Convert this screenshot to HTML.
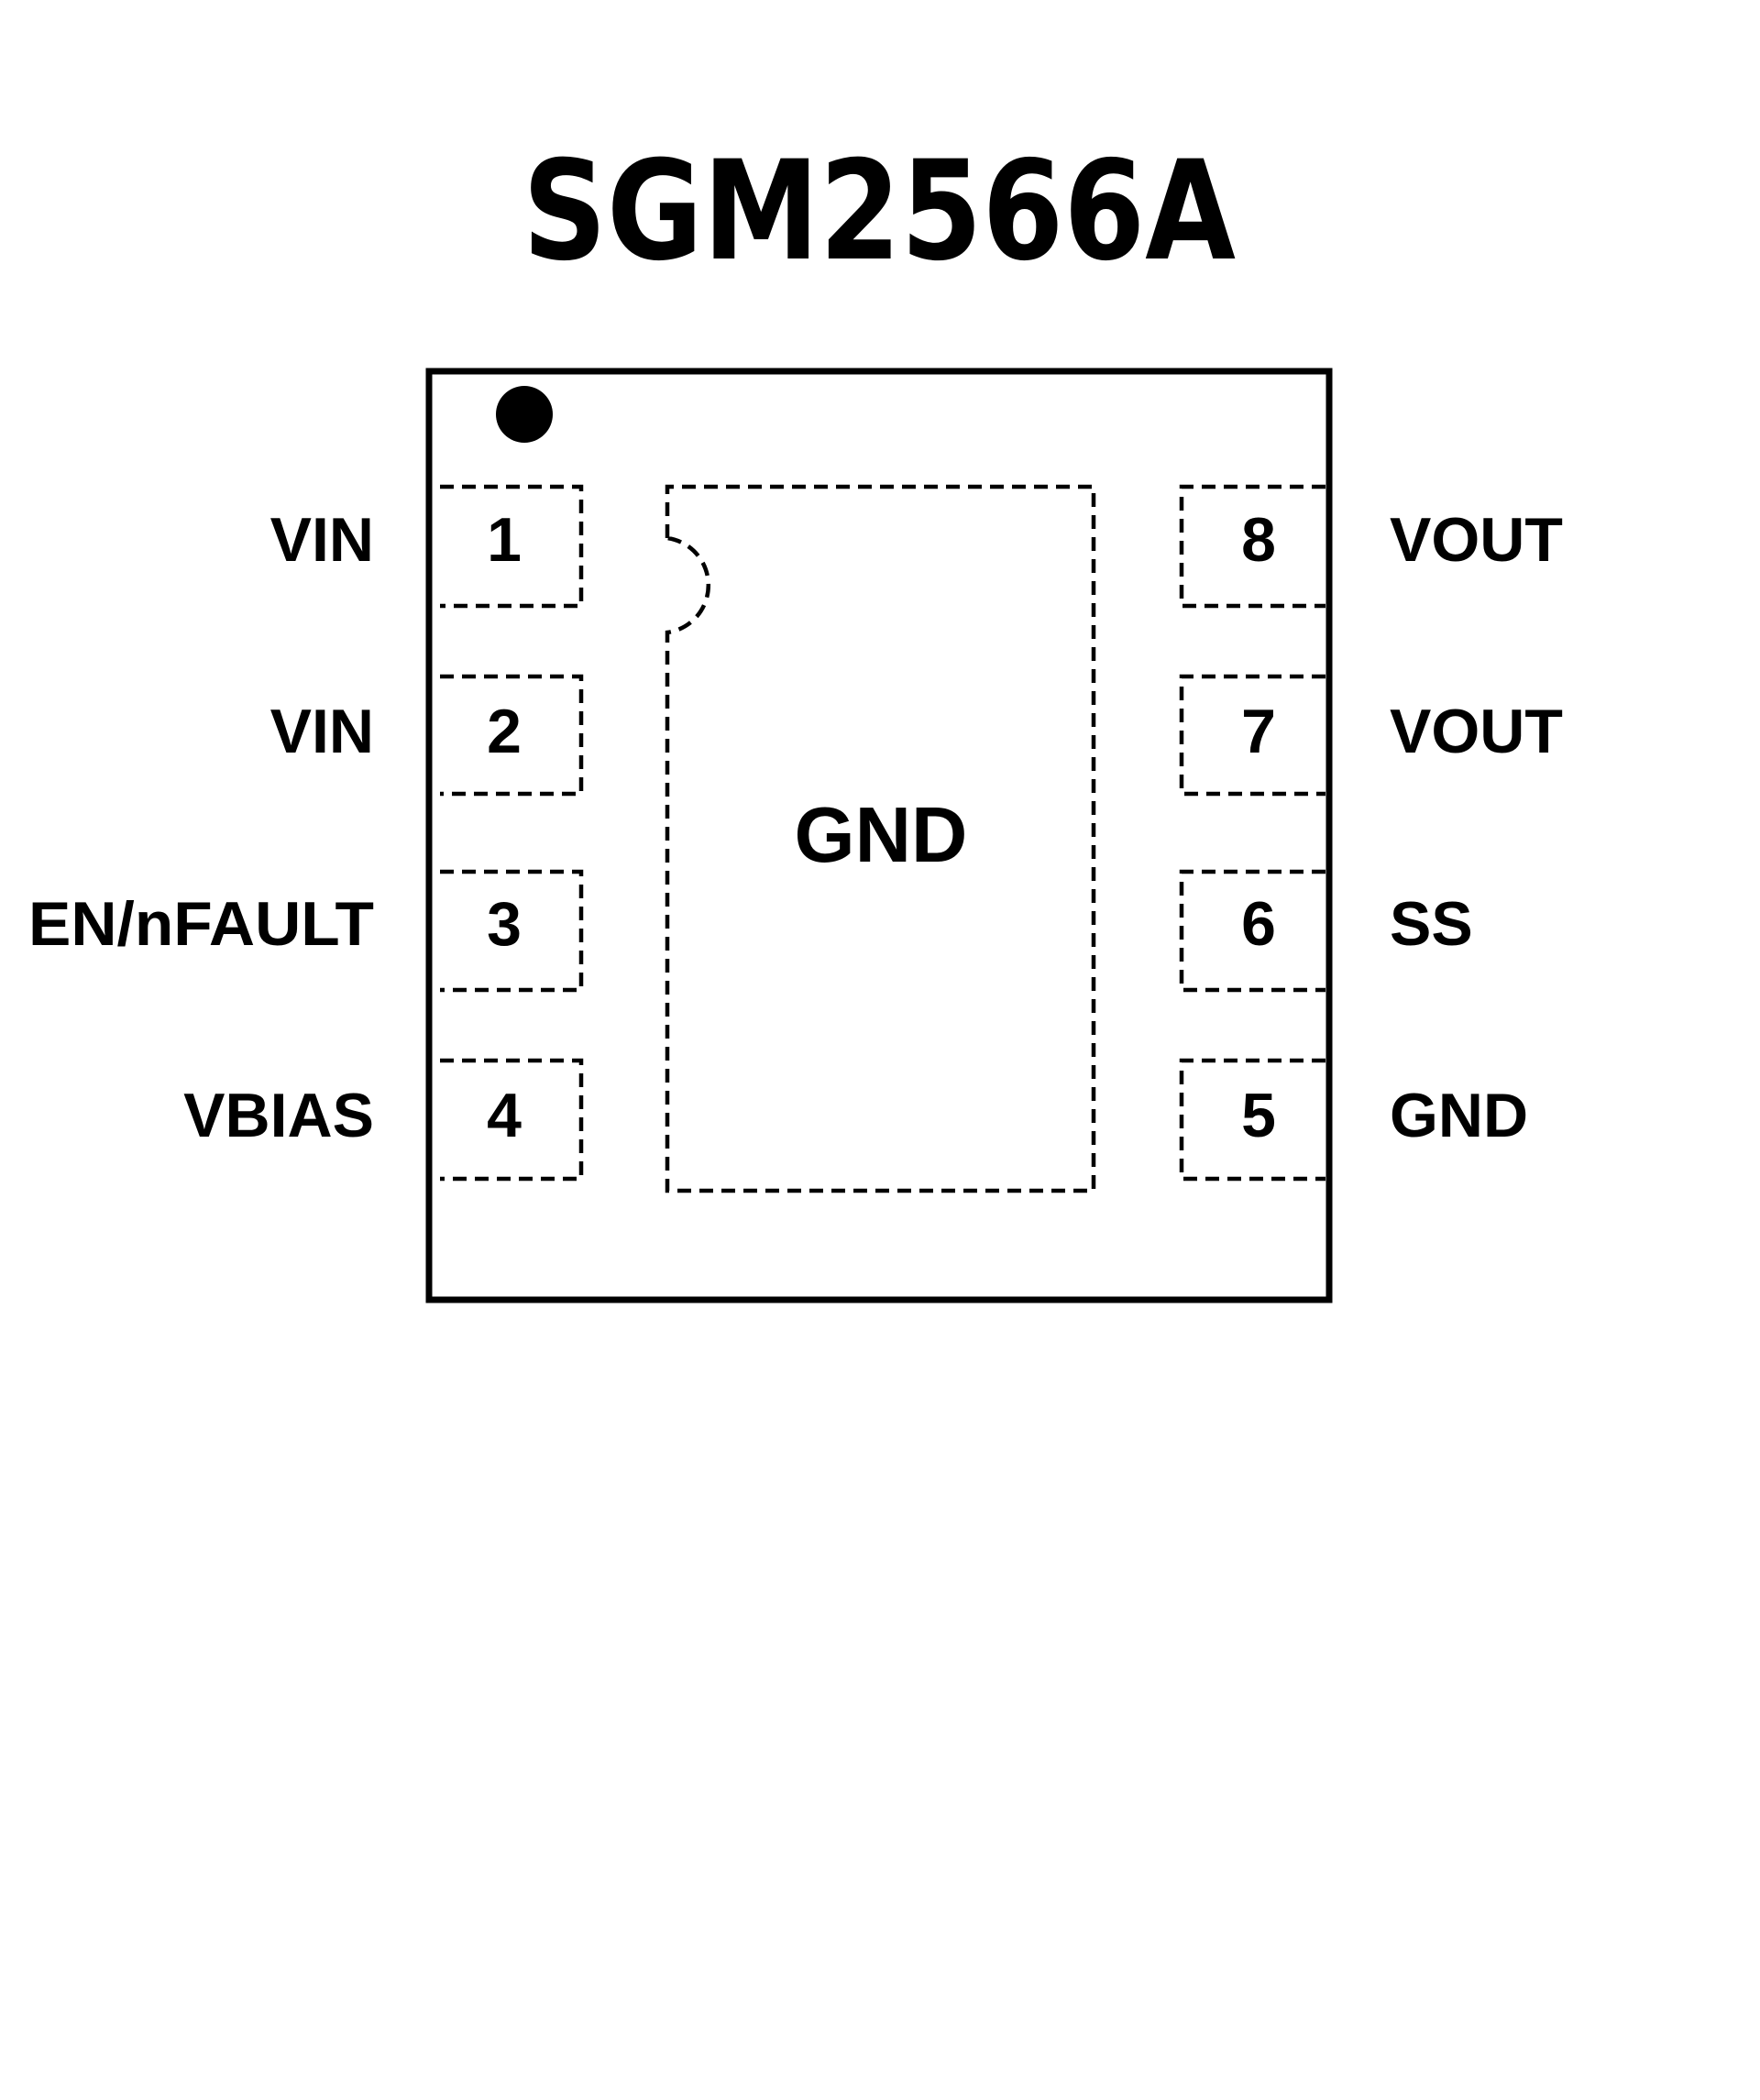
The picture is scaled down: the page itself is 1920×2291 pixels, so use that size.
<!DOCTYPE html>
<html><head><meta charset="utf-8"><style>
html,body{margin:0;padding:0;background:#fff;}
svg{display:block}
text{font-family:"Liberation Sans",sans-serif;font-weight:bold;fill:#000}
</style></head><body>
<svg width="1920" height="2291" viewBox="0 0 1920 2291" xmlns="http://www.w3.org/2000/svg">
<text x="959" y="282" font-size="150" text-anchor="middle" style="font-family:'DejaVu Sans',sans-serif" textLength="778" lengthAdjust="spacingAndGlyphs">SGM2566A</text>
<rect x="468" y="405" width="982" height="1013" fill="none" stroke="#000" stroke-width="7"/>
<circle cx="572" cy="452" r="31" fill="#000"/>
<g fill="none" stroke="#000" stroke-width="4.5" stroke-dasharray="15 9">
<path d="M480 531 H634 V661 H480"/>
<path d="M480 738 H634 V866 H480"/>
<path d="M480 951 H634 V1080 H480"/>
<path d="M480 1157 H634 V1286 H480"/>
<path d="M1446 531 H1289 V661 H1446"/>
<path d="M1446 738 H1289 V866 H1446"/>
<path d="M1446 951 H1289 V1080 H1446"/>
<path d="M1446 1157 H1289 V1286 H1446"/>
<path d="M728 587 V531 H1193 V1299 H728 V690 A52 52 0 0 0 728 587"/>
</g>
<g font-size="68">
<text x="408" y="612" text-anchor="end">VIN</text>
<text x="408" y="821" text-anchor="end">VIN</text>
<text x="408" y="1031" text-anchor="end" textLength="377" lengthAdjust="spacingAndGlyphs">EN/nFAULT</text>
<text x="408" y="1240" text-anchor="end">VBIAS</text>
<text x="1516" y="612">VOUT</text>
<text x="1516" y="821">VOUT</text>
<text x="1516" y="1031">SS</text>
<text x="1516" y="1240">GND</text>
<text x="550" y="612" text-anchor="middle">1</text>
<text x="550" y="821" text-anchor="middle">2</text>
<text x="550" y="1031" text-anchor="middle">3</text>
<text x="550" y="1240" text-anchor="middle">4</text>
<text x="1373" y="612" text-anchor="middle">8</text>
<text x="1373" y="821" text-anchor="middle">7</text>
<text x="1373" y="1031" text-anchor="middle">6</text>
<text x="1373" y="1240" text-anchor="middle">5</text>
</g>
<text x="961" y="940" font-size="85" text-anchor="middle">GND</text>
</svg>
</body></html>
